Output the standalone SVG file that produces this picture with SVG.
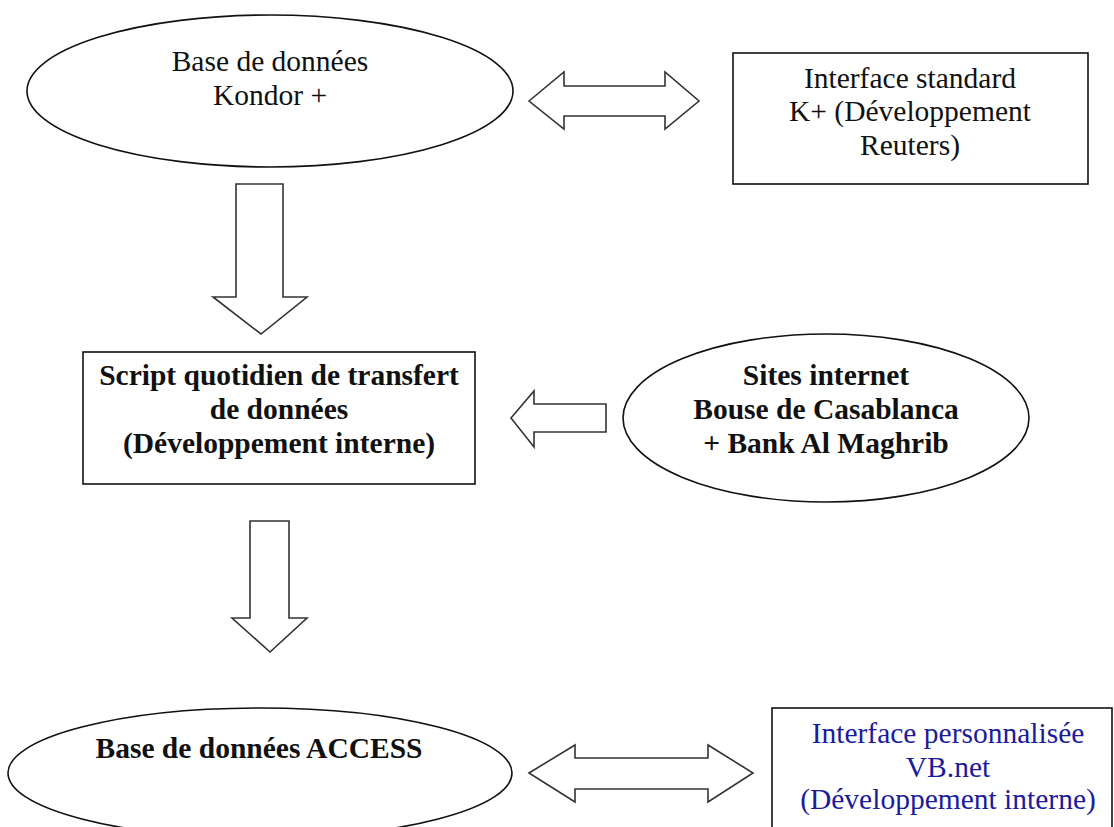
<svg xmlns="http://www.w3.org/2000/svg" width="1114" height="827" viewBox="0 0 1114 827">
<style>
.shape{fill:#fff;stroke:#111;stroke-width:1.6}
.arrow{fill:#fff;stroke:#333;stroke-width:1.6;stroke-linejoin:miter}
.t{font-family:"Liberation Serif","Times New Roman",serif;font-size:29.5px;fill:#111;text-anchor:middle}
.b{font-weight:bold}
.blue{fill:#1c1c9a}
</style>
<rect width="1114" height="827" fill="#fff"/>
<g id="connectors">
<path class="arrow" d="M529,101 L564,72 V86 H665 V72 L699,101 L665,129 V116 H564 V129 Z"/>
<path class="arrow" d="M236,184 H283 V297 H307 L261,334 L213,297 H236 Z"/>
<path class="arrow" d="M606,404 V432 H534 V447 L511,418 L534,391 V404 Z"/>
<path class="arrow" d="M250,521 H289 V618 H307 L270,652 L232,618 H250 Z"/>
<path class="arrow" d="M529,773 L575,745 V758 H708 V745 L753,773 L708,802 V789 H575 V802 Z"/>
</g>
<g id="kondor">
<ellipse class="shape" cx="270" cy="91" rx="243" ry="76"/>
<text class="t" x="270" y="71">Base de données</text>
<text class="t" x="270" y="105">Kondor +</text>
</g>
<g id="interface-standard">
<rect class="shape" x="733" y="53" width="355" height="131"/>
<text class="t" x="910" y="88">Interface standard</text>
<text class="t" x="910" y="121">K+ (Développement</text>
<text class="t" x="910" y="155">Reuters)</text>
</g>
<g id="script">
<rect class="shape" x="83" y="352" width="392" height="132"/>
<text class="t b" x="279" y="385">Script quotidien de transfert</text>
<text class="t b" x="279" y="419">de données</text>
<text class="t b" x="279" y="453">(Développement interne)</text>
</g>
<g id="sites">
<ellipse class="shape" cx="826" cy="418" rx="203" ry="84"/>
<text class="t b" x="826" y="385">Sites internet</text>
<text class="t b" x="826" y="419">Bouse de Casablanca</text>
<text class="t b" x="826" y="453">+ Bank Al Maghrib</text>
</g>
<g id="access">
<ellipse class="shape" cx="260" cy="773" rx="252" ry="65"/>
<text class="t b" x="259" y="758">Base de données ACCESS</text>
</g>
<g id="interface-vb">
<rect class="shape" x="772" y="708" width="340" height="130"/>
<text class="t blue" x="948" y="743">Interface personnalisée</text>
<text class="t blue" x="948" y="777">VB.net</text>
<text class="t blue" x="948" y="809">(Développement interne)</text>
</g>
</svg>
